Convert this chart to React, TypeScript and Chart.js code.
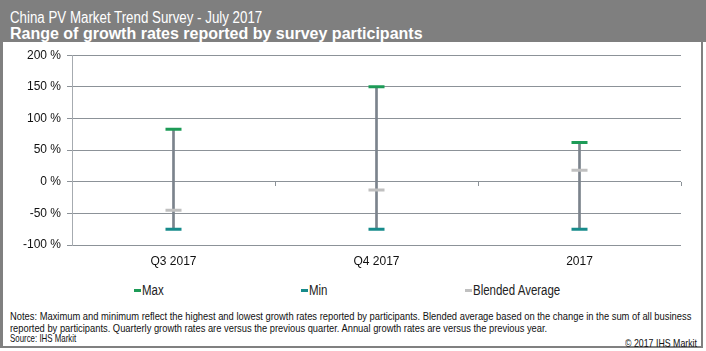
import React, { useEffect, useLayoutEffect, useRef, useState } from 'react';
import { Chart, registerables } from 'chart.js';

Chart.register(...registerables);

const categories = ['Q3 2017', 'Q4 2017', '2017'];
const maxValues = [83, 150, 62];
const minValues = [-75, -75, -75];
const avgValues = [-45, -13, 18];
const yTickValues = [-100, -50, 0, 50, 100, 150, 200];
const seriesNames = ['Max', 'Min', 'Blended Average'];
const seriesColors = ['#1d9b57', '#178b8b', '#c0c0c0'];
const legendLefts = [134, 301, 465];
const rangeColor = '#7b838c';
const gridColor = '#8c9298';

const titleLine1 = 'China PV Market Trend Survey - July 2017';
const titleLine2 = 'Range of growth rates reported by survey participants';
const notesLine1 =
  'Notes: Maximum and minimum reflect the highest and lowest growth rates reported by participants. Blended average based on the change in the sum of all business';
const notesLine2 =
  'reported by participants. Quarterly growth rates are versus the previous quarter. Annual growth rates are versus the previous year.';
const sourceText = 'Source: IHS Markit';
const copyrightText = '\u00A9 2017 IHS Markit';

const FONT = '"Liberation Sans", Arial, Helvetica, sans-serif';

function FitText({ text, width, style }: { text: string; width: number; style?: any }) {
  const ref = useRef<HTMLSpanElement>(null);
  const [scale, setScale] = useState(1);
  useLayoutEffect(() => {
    const el = ref.current;
    if (el && el.offsetWidth > 0) setScale(width / el.offsetWidth);
  }, [text, width]);
  return (
    <span
      ref={ref}
      style={{
        display: 'inline-block',
        whiteSpace: 'nowrap',
        transformOrigin: '0 0',
        transform: `scaleX(${scale})`,
        ...style,
      }}
    >
      {text}
    </span>
  );
}

function Narrow({ text, scale, style }: { text: string; scale: number; style?: any }) {
  const ref = useRef<HTMLSpanElement>(null);
  const [w, setW] = useState<number | undefined>(undefined);
  useLayoutEffect(() => {
    const el = ref.current;
    if (el) setW(el.offsetWidth * scale);
  }, [text, scale]);
  return (
    <span style={{ display: 'inline-block', width: w, overflow: 'visible', whiteSpace: 'nowrap' }}>
      <span
        ref={ref}
        style={{
          display: 'inline-block',
          whiteSpace: 'nowrap',
          transformOrigin: '0 0',
          transform: `scaleX(${scale})`,
          ...style,
        }}
      >
        {text}
      </span>
    </span>
  );
}

const zeroTicks = {
  id: 'zeroTicks',
  beforeDatasetsDraw(chart: any) {
    const xs = chart.scales.x;
    const ys = chart.scales.y;
    const y0 = ys.getPixelForValue(0);
    const ctx = chart.ctx;
    ctx.save();
    ctx.strokeStyle = gridColor;
    ctx.lineWidth = 1;
    for (let i = 0; i < categories.length; i++) {
      const xb =
        i < categories.length - 1
          ? (xs.getPixelForValue(i) + xs.getPixelForValue(i + 1)) / 2
          : chart.chartArea.right;
      const px = Math.round(xb) + 0.5;
      ctx.beginPath();
      ctx.moveTo(px, Math.round(y0));
      ctx.lineTo(px, Math.round(y0) + 4);
      ctx.stroke();
    }
    ctx.restore();
  },
};

function ChartCanvas() {
  const ref = useRef<HTMLCanvasElement>(null);
  useEffect(() => {
    if (!ref.current) return;
    const capDataset = (label: string, data: number[], color: string) => ({
      type: 'line' as const,
      label,
      data,
      showLine: false,
      pointStyle: 'line',
      pointRadius: 8,
      pointHoverRadius: 8,
      pointBorderWidth: 3,
      pointHoverBorderWidth: 3,
      borderColor: color,
      backgroundColor: color,
      order: 1,
    });
    const chart = new Chart(ref.current, {
      type: 'bar',
      data: {
        labels: categories,
        datasets: [
          {
            type: 'bar',
            label: 'Range',
            data: categories.map((_, i) => [minValues[i], maxValues[i]]) as any,
            backgroundColor: rangeColor,
            barThickness: 2,
            order: 10,
          },
          capDataset(seriesNames[2], avgValues, seriesColors[2]),
          capDataset(seriesNames[1], minValues, seriesColors[1]),
          capDataset(seriesNames[0], maxValues, seriesColors[0]),
        ] as any,
      },
      options: {
        responsive: false,
        animation: false,
        events: [],
        layout: { padding: { top: 13, right: 19, bottom: 0, left: 0 } },
        plugins: {
          legend: { display: false },
          tooltip: { enabled: false },
        },
        scales: {
          x: {
            type: 'category',
            offset: true,
            grid: { display: false, drawTicks: false },
            border: { display: false },
            ticks: {
              color: '#111',
              font: { family: FONT, size: 12 },
              padding: 9,
            },
            afterFit: (s: any) => {
              s.height = 30;
            },
          },
          y: {
            min: yTickValues[0],
            max: yTickValues[yTickValues.length - 1],
            afterBuildTicks: (s: any) => {
              s.ticks = yTickValues.map((v) => ({ value: v }));
            },
            ticks: {
              color: '#111',
              font: { family: FONT, size: 12 },
              padding: 6,
              callback: (v: any) => `${v} %`,
            },
            grid: {
              color: gridColor,
              tickColor: gridColor,
              tickLength: 5,
              lineWidth: 1,
            },
            border: { color: '#a6abb0', width: 1 },
            afterFit: (s: any) => {
              s.width = 72;
            },
          },
        },
      },
      plugins: [zeroTicks],
    } as any);
    return () => chart.destroy();
  }, []);
  return <canvas ref={ref} width={700} height={233} style={{ display: 'block' }} />;
}

export default function App() {
  return (
    <div
      style={{
        position: 'fixed',
        left: 0,
        top: 0,
        width: 706,
        height: 351,
        background: '#fff',
        overflow: 'hidden',
        fontFamily: FONT,
      }}
    >
      <div style={{ position: 'absolute', left: 0, top: 0, width: 706, height: 42, background: '#7f7f7f' }} />
      <div style={{ position: 'absolute', left: 10, top: 10, color: '#fff', fontSize: 16, lineHeight: '16px' }}>
        <FitText text={titleLine1} width={252} />
      </div>
      <div
        style={{
          position: 'absolute',
          left: 10,
          top: 26,
          color: '#fff',
          fontSize: 16,
          fontWeight: 'bold',
          lineHeight: '16px',
          whiteSpace: 'nowrap',
        }}
      >
        {titleLine2}
      </div>
      <div
        style={{
          position: 'absolute',
          left: 0,
          top: 41,
          width: 703,
          height: 307,
          boxSizing: 'border-box',
          borderLeft: '3px solid #808080',
          borderRight: '2px solid #808080',
          borderBottom: '2px solid #808080',
        }}
      />
      <div style={{ position: 'absolute', left: 0, top: 42 }}>
        <ChartCanvas />
      </div>
      {seriesNames.map((name, i) => (
        <div
          key={name}
          style={{
            position: 'absolute',
            left: legendLefts[i],
            top: 282,
            display: 'flex',
            alignItems: 'center',
            fontSize: 14,
            lineHeight: '16px',
            color: '#222',
          }}
        >
          <span style={{ display: 'inline-block', width: 7, height: 3, background: seriesColors[i], marginRight: 1 }} />
          <Narrow text={name} scale={0.82} />
        </div>
      ))}
      <div style={{ position: 'absolute', left: 10, top: 310, fontSize: 11, lineHeight: '12px', color: '#111' }}>
        <FitText text={notesLine1} width={681} />
      </div>
      <div style={{ position: 'absolute', left: 10, top: 322, fontSize: 11, lineHeight: '12px', color: '#111' }}>
        <FitText text={notesLine2} width={537} />
      </div>
      <div style={{ position: 'absolute', left: 10, top: 332, fontSize: 11, lineHeight: '12px', color: '#111' }}>
        <FitText text={sourceText} width={66} />
      </div>
      <div
        style={{
          position: 'absolute',
          right: 9,
          top: 337,
          fontSize: 11,
          lineHeight: '12px',
          color: '#111',
          textAlign: 'right',
        }}
      >
        <Narrow text={copyrightText} scale={0.8} />
      </div>
    </div>
  );
}
